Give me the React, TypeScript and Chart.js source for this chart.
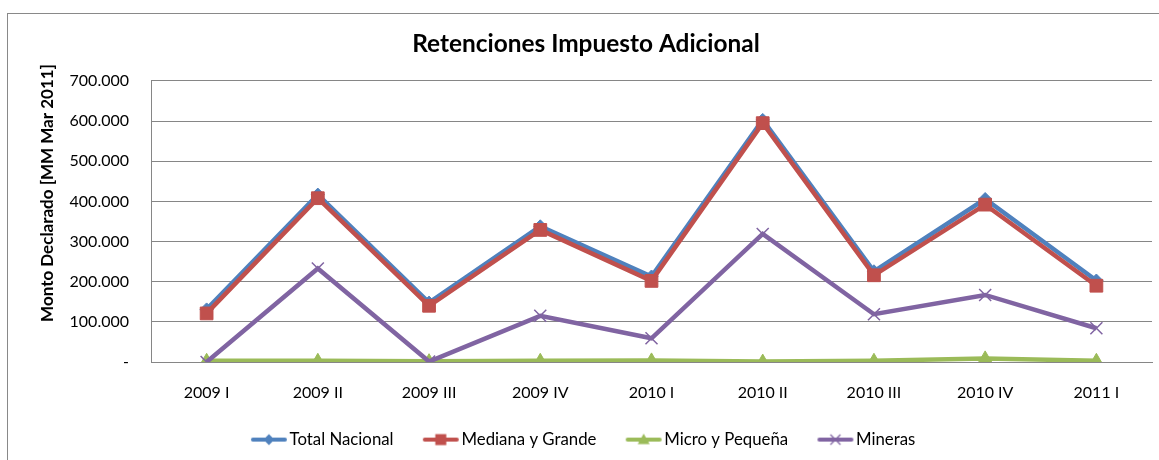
import React, { useEffect, useRef } from 'react';
import { Chart, registerables } from 'chart.js';
Chart.register(...registerables);

const categories = ['2009 I', '2009 II', '2009 III', '2009 IV', '2010 I', '2010 II', '2010 III', '2010 IV', '2011 I'];
const totalNacional = [131000, 417000, 148000, 338000, 213000, 603000, 226000, 406000, 203000];
const medianaGrande = [121000, 408000, 140000, 329000, 202000, 595000, 216000, 392000, 190000];
const microPequena = [3000, 3000, 2000, 3000, 4000, 1000, 3000, 9000, 3000];
const mineras = [0, 233000, 1000, 115000, 59000, 319000, 119000, 167000, 84000];
const seriesNames = ['Total Nacional', 'Mediana y Grande', 'Micro y Pequeña', 'Mineras'];
const yMin = 0;
const yMax = 700000;
const yStep = 100000;

const FONT = 'Lato';
const BLUE = '#4F81BD';
const RED = '#C0504D';
const GREEN = '#9BBB59';
const PURPLE = '#8064A2';
const GRID = '#868686';

function fmt(v: number): string {
  if (v === 0) return '-';
  return Math.round(v).toString().replace(/\B(?=(\d{3})+(?!\d))/g, '.');
}

// legend icon: image 46 wide, visible line from x=9 to x=45, marker centred at 27
function makeIcon(color: string, kind: string): HTMLCanvasElement {
  const c = document.createElement('canvas');
  c.width = 46;
  c.height = 16;
  const ctx = c.getContext('2d')!;
  ctx.strokeStyle = color;
  ctx.fillStyle = color;
  ctx.lineWidth = 4;
  ctx.lineCap = 'round';
  ctx.beginPath();
  ctx.moveTo(11, 8);
  ctx.lineTo(43, 8);
  ctx.stroke();
  const cx = 27, cy = 8;
  ctx.beginPath();
  if (kind === 'diamond') {
    ctx.moveTo(cx, cy - 5.5); ctx.lineTo(cx + 5.5, cy); ctx.lineTo(cx, cy + 5.5); ctx.lineTo(cx - 5.5, cy); ctx.closePath(); ctx.fill();
  } else if (kind === 'square') {
    ctx.rect(cx - 5.5, cy - 5.5, 11, 11); ctx.fill();
  } else if (kind === 'triangle') {
    ctx.moveTo(cx, cy - 6); ctx.lineTo(cx + 6, cy + 4.5); ctx.lineTo(cx - 6, cy + 4.5); ctx.closePath(); ctx.fill();
  } else {
    ctx.lineWidth = 1.3;
    ctx.lineCap = 'butt';
    ctx.moveTo(cx - 5, cy - 5); ctx.lineTo(cx + 5, cy + 5);
    ctx.moveTo(cx + 5, cy - 5); ctx.lineTo(cx - 5, cy + 5);
    ctx.stroke();
  }
  return c;
}

const yTitlePlugin = {
  id: 'yTitleCustom',
  afterLayout(chart: any) {
    const l = chart.legend;
    if (l) { l.left -= 4; l.right -= 4; }
  },
  afterDraw(chart: any) {
    const ctx = chart.ctx;
    const area = chart.chartArea;
    ctx.save();
    ctx.translate(area.left - 103, area.top + 112);
    ctx.rotate(-Math.PI / 2);
    ctx.font = `bold 17px ${FONT}`;
    ctx.fillStyle = '#000';
    ctx.textAlign = 'center';
    ctx.textBaseline = 'middle';
    ctx.fillText('Monto Declarado [MM Mar 2011]', 0, 0);
    ctx.restore();
  },
};

export default function App() {
  const ref = useRef<HTMLCanvasElement | null>(null);
  useEffect(() => {
    if (!ref.current) return;
    Chart.defaults.font.family = FONT;
    const icons = [
      makeIcon(BLUE, 'diamond'),
      makeIcon(RED, 'square'),
      makeIcon(GREEN, 'triangle'),
      makeIcon(PURPLE, 'cross'),
    ];
    const chart = new Chart(ref.current, {
      type: 'line',
      data: {
        labels: categories,
        datasets: [
          { label: seriesNames[0], data: totalNacional, borderColor: BLUE, backgroundColor: BLUE, borderWidth: 4.5, pointStyle: 'rectRot', pointRadius: 6.5, pointBorderWidth: 1, pointBorderColor: BLUE, pointBackgroundColor: BLUE, order: 4 },
          { label: seriesNames[1], data: medianaGrande, borderColor: RED, backgroundColor: RED, borderWidth: 4.5, pointStyle: 'rect', pointRadius: 9, pointBorderWidth: 1, pointBorderColor: RED, pointBackgroundColor: RED, order: 3 },
          { label: seriesNames[2], data: microPequena, borderColor: GREEN, backgroundColor: GREEN, borderWidth: 4.5, pointStyle: 'triangle', pointRadius: 7.5, pointBorderWidth: 1, pointBorderColor: GREEN, pointBackgroundColor: GREEN, order: 2 },
          { label: seriesNames[3], data: mineras, borderColor: PURPLE, backgroundColor: PURPLE, borderWidth: 4.5, pointStyle: 'crossRot', pointRadius: 8.5, pointBorderWidth: 1.5, pointBorderColor: PURPLE, pointBackgroundColor: PURPLE, order: 1 },
        ],
      },
      options: {
        responsive: false,
        animation: false,
        layout: { padding: { left: 12, right: 10, top: 0, bottom: 0 } },
        plugins: {
          title: {
            display: true,
            text: 'Retenciones Impuesto Adicional',
            color: '#000',
            font: { size: 24.4, weight: 'bold', family: FONT },
            padding: { top: 15.3, bottom: 22.4 },
          },
          legend: {
            display: true,
            position: 'bottom',
            labels: {
              color: '#000',
              font: { size: 16.8, family: FONT },
              usePointStyle: true,
              pointStyleWidth: 32.5,
              padding: 27,
              sort: (a: any, b: any) => a.datasetIndex - b.datasetIndex,
              generateLabels: (ch: any) => {
                const items = Chart.defaults.plugins.legend.labels.generateLabels(ch);
                return items.map((it: any) => ({ ...it, pointStyle: icons[it.datasetIndex], lineWidth: 0 }));
              },
            },
          },
          tooltip: { enabled: false },
        },
        scales: {
          x: {
            type: 'category',
            offset: true,
            grid: { display: false, drawTicks: false },
            border: { display: true, color: GRID, width: 1 },
            ticks: { color: '#000', font: { size: 16 }, padding: 21, maxRotation: 0, autoSkip: false },
            afterFit: (s: any) => { s.height = 42.2; },
          },
          y: {
            min: yMin,
            max: yMax,
            grid: { color: GRID, lineWidth: 1, drawTicks: false },
            border: { display: true, color: GRID, width: 1 },
            ticks: { stepSize: yStep, color: '#000', font: { size: 16 }, padding: 22, callback: (v: any) => fmt(Number(v)) },
            afterFit: (s: any) => { s.width = 131; },
          },
        },
      },
      plugins: [yTitlePlugin],
    } as any);
    return () => chart.destroy();
  }, []);

  return (
    <div style={{ position: 'fixed', left: 0, top: 0, width: 1159, height: 460, overflow: 'hidden', background: '#fff' }}>
      <div style={{ position: 'absolute', left: 7, top: 13, width: 1200, height: 500, border: '1px solid #898989', boxSizing: 'border-box', background: '#fff' }}>
        <canvas ref={ref} width={1154} height={444} style={{ display: 'block', width: 1154, height: 444 }} />
      </div>
    </div>
  );
}
